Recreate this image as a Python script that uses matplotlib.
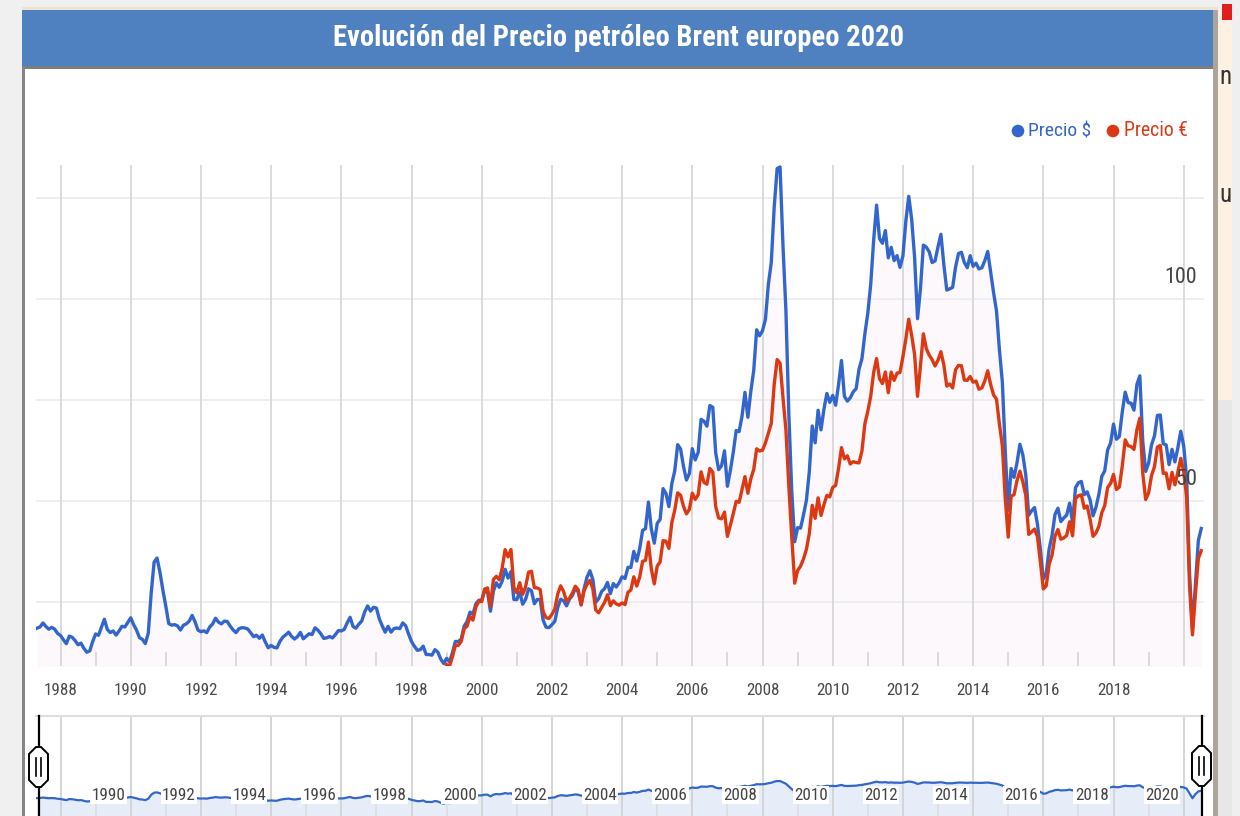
import numpy as np
import pandas as pd
import matplotlib
matplotlib.use("Agg")
import matplotlib.pyplot as plt
from matplotlib.patches import Rectangle, Polygon, Circle
from matplotlib import font_manager as fm

# ---------------- data ----------------
title = "Evolución del Precio petróleo Brent europeo 2020"
series_names = ["Precio $", "Precio €"]
usd_start = "1987-05"
eur_start = "1999-01"

precio_usd = [
    18.58, 18.86, 19.86, 18.98, 18.31, 18.76, 18.33, 17.27,                                  # 1987 (May-Dec)
    16.75, 15.70, 14.73, 16.60, 16.31, 15.49, 14.46, 14.86, 13.57, 12.61, 12.93, 15.25,      # 1988
    17.13, 16.80, 18.77, 20.78, 18.26, 17.49, 17.88, 16.85, 17.86, 19.03, 18.86, 19.97,      # 1989
    21.14, 19.45, 18.07, 16.21, 15.80, 14.76, 17.29, 27.18, 34.90, 35.92, 32.42, 27.97,      # 1990
    24.03, 19.71, 19.31, 19.45, 19.12, 18.10, 19.27, 19.63, 20.29, 21.72, 20.13, 18.09,      # 1991
    17.69, 17.90, 17.47, 18.83, 19.59, 21.03, 20.06, 19.62, 20.30, 20.23, 19.09, 18.15,      # 1992
    17.46, 18.43, 18.68, 18.62, 18.38, 17.45, 16.45, 16.82, 16.06, 16.87, 15.17, 13.72,      # 1993
    14.28, 13.82, 13.68, 15.27, 16.33, 16.91, 17.57, 16.54, 15.87, 16.47, 17.52, 15.93,      # 1994
    16.57, 17.18, 16.99, 18.65, 18.08, 17.18, 16.03, 16.16, 16.51, 16.15, 16.99, 17.96,      # 1995
    17.88, 18.27, 19.86, 21.25, 18.99, 18.56, 19.55, 20.34, 22.61, 24.08, 22.78, 23.73,      # 1996
    23.54, 20.85, 19.13, 17.56, 19.02, 17.58, 18.46, 18.60, 18.46, 19.87, 19.20, 17.10,      # 1997
    15.26, 14.07, 13.09, 13.24, 14.11, 12.04, 12.04, 11.89, 13.25, 12.65, 10.91, 9.82,       # 1998
    11.08, 10.27, 12.51, 15.29, 15.23, 15.86, 19.08, 20.22, 22.54, 22.01, 24.58, 25.47,      # 1999
    25.51, 27.78, 27.49, 22.76, 27.74, 29.80, 28.68, 30.20, 33.14, 30.96, 32.55, 25.66,      # 2000
    25.62, 27.50, 24.50, 25.66, 28.31, 27.85, 24.61, 25.68, 25.62, 20.54, 18.80, 18.71,      # 2001
    19.42, 20.28, 23.70, 25.73, 25.35, 24.08, 25.74, 26.65, 28.40, 27.54, 24.34, 28.33,      # 2002
    31.18, 32.77, 30.61, 25.00, 25.86, 27.65, 28.35, 29.89, 27.11, 29.61, 28.75, 29.81,      # 2003
    31.28, 30.86, 33.63, 33.59, 37.57, 35.18, 38.22, 42.74, 43.20, 49.78, 43.11, 39.60,      # 2004
    44.51, 45.48, 53.10, 51.88, 48.65, 54.35, 57.52, 63.98, 62.91, 58.54, 55.24, 56.86,      # 2005
    62.99, 60.21, 62.06, 70.26, 69.78, 68.56, 73.67, 73.23, 61.96, 57.81, 58.76, 62.47,      # 2006
    53.68, 57.56, 62.05, 67.49, 67.21, 71.05, 76.93, 70.76, 77.17, 82.34, 92.41, 90.93,      # 2007
    92.18, 94.99, 103.64, 109.07, 122.80, 132.32, 132.72, 113.24, 97.23, 71.58, 52.45, 39.95,  # 2008
    43.44, 43.32, 46.54, 50.18, 57.30, 68.61, 64.44, 72.51, 67.65, 72.77, 76.66, 74.46,      # 2009
    76.17, 73.75, 78.83, 84.82, 75.95, 74.76, 75.58, 77.04, 77.84, 82.67, 85.28, 91.45,      # 2010
    96.52, 103.72, 114.64, 123.26, 114.99, 113.83, 116.97, 110.22, 112.83, 109.55, 110.77, 107.87,  # 2011
    110.69, 119.33, 125.45, 119.75, 110.34, 95.16, 102.62, 113.36, 112.86, 111.71, 109.06, 109.49,  # 2012
    112.96, 116.05, 108.47, 102.25, 102.56, 102.92, 107.93, 111.28, 111.60, 109.08, 107.79, 110.76,  # 2013
    108.12, 108.90, 107.48, 107.76, 109.54, 111.80, 106.77, 101.61, 97.09, 87.43, 79.44, 62.34,     # 2014
    47.76, 58.10, 55.89, 59.52, 64.08, 61.48, 56.56, 46.52, 47.62, 48.43, 44.27, 38.01,      # 2015
    30.70, 32.18, 38.21, 41.58, 46.74, 48.25, 44.95, 45.84, 46.57, 49.52, 44.73, 53.31,      # 2016
    54.58, 54.87, 51.59, 52.31, 50.33, 46.37, 48.48, 51.70, 56.15, 57.51, 62.71, 64.37,      # 2017
    69.08, 65.32, 66.02, 72.11, 76.98, 74.41, 74.25, 72.53, 78.89, 81.03, 64.75, 57.36,      # 2018
    59.41, 63.96, 66.14, 71.23, 71.32, 64.22, 63.92, 59.04, 62.83, 59.71, 63.21, 67.31,      # 2019
    63.65, 55.66, 32.01, 18.38, 29.38, 40.27, 43.24,                                         # 2020 (Jan-Jul)
]

precio_eur = [
    9.54, 9.16, 11.50, 14.29, 14.33, 15.28, 18.43, 19.08, 21.47, 20.55, 23.77, 25.19,        # 1999
    25.16, 28.26, 28.52, 24.03, 30.62, 31.40, 30.51, 33.41, 38.00, 36.21, 38.03, 28.61,      # 2000
    27.31, 29.83, 26.92, 28.77, 32.39, 32.65, 28.58, 28.53, 28.12, 22.67, 21.17, 20.98,      # 2001
    21.99, 23.31, 27.05, 29.04, 27.64, 25.21, 25.95, 27.25, 28.95, 28.07, 24.32, 27.83,      # 2002
    29.36, 30.40, 28.32, 23.04, 22.37, 23.69, 24.91, 26.83, 24.16, 25.33, 24.57, 24.26,      # 2003
    24.81, 24.40, 27.43, 28.02, 31.28, 28.98, 31.15, 35.09, 35.35, 39.86, 33.19, 29.53,      # 2004
    33.93, 34.96, 40.23, 40.09, 38.31, 44.70, 47.77, 52.06, 51.44, 48.70, 46.85, 47.94,      # 2005
    51.97, 50.43, 51.59, 57.26, 54.64, 54.20, 58.10, 57.17, 48.67, 45.84, 45.62, 47.29,      # 2006
    41.29, 44.01, 46.87, 49.96, 49.71, 52.94, 56.07, 51.95, 55.52, 57.86, 62.95, 62.41,      # 2007
    62.62, 64.40, 66.78, 69.25, 78.92, 85.04, 84.16, 75.64, 67.66, 53.74, 41.20, 29.70,      # 2008
    32.81, 33.90, 35.66, 38.04, 41.98, 48.97, 45.74, 50.81, 46.46, 49.10, 51.42, 51.07,      # 2009
    53.38, 53.91, 58.09, 63.25, 60.47, 61.23, 59.19, 59.77, 59.56, 59.47, 62.43, 69.17,      # 2010
    72.25, 75.99, 81.89, 85.30, 80.30, 79.10, 81.97, 76.86, 81.94, 79.90, 81.69, 81.84,      # 2011
    85.74, 90.13, 95.04, 91.00, 86.27, 75.95, 83.50, 91.42, 87.76, 86.13, 85.00, 83.45,      # 2012
    84.93, 86.99, 83.70, 78.47, 79.01, 78.03, 82.52, 83.61, 83.53, 79.97, 79.90, 80.85,      # 2013
    79.44, 79.72, 77.71, 78.03, 79.78, 82.27, 78.86, 76.28, 75.26, 69.01, 63.70, 50.56,      # 2014
    41.10, 51.19, 51.61, 55.06, 57.42, 54.80, 51.42, 41.76, 42.40, 43.09, 41.22, 34.94,      # 2015
    28.27, 29.02, 34.42, 36.67, 41.33, 42.97, 40.60, 40.89, 41.54, 44.90, 41.42, 50.58,      # 2016
    51.34, 51.57, 48.26, 48.80, 45.51, 41.29, 42.12, 43.78, 47.15, 48.90, 53.42, 54.37,      # 2017
    56.62, 52.89, 53.50, 58.72, 65.18, 63.71, 63.52, 62.80, 67.66, 70.52, 56.95, 50.40,      # 2018
    52.02, 56.35, 58.53, 63.37, 63.79, 56.88, 56.97, 53.05, 57.12, 54.04, 57.20, 60.59,      # 2019
    57.34, 51.02, 28.94, 16.91, 26.95, 35.80, 37.73,                                         # 2020 (Jan-Jul)
]

x_tick_years = list(range(1988, 2019, 2))
grid_years = list(range(1988, 2021, 2))
overview_years = list(range(1990, 2021, 2))
y_grid = [25, 50, 75, 100, 125]
y_labels = [50, 100]

# ---------------- styles ----------------
W, H = 1240, 816
BLUE = "#3366cc"
RED = "#dc3912"

_avail = {f.name for f in fm.fontManager.ttflist}
NARROW = "Liberation Sans"
for cand in ["Liberation Sans Narrow", "Arial Narrow", "Roboto Condensed", "Archivo Narrow",
             "PT Sans Narrow", "IBM Plex Sans Condensed", "Open Sans Condensed"]:
    if cand in _avail:
        NARROW = cand
        break
FONT = [NARROW, "DejaVu Sans"]


def decimal_years(start, n):
    p = pd.period_range(start, periods=n, freq="M")
    return np.asarray(p.year + (p.month - 1) / 12.0, dtype=float)


x_usd = decimal_years(usd_start, len(precio_usd))
x_eur = decimal_years(eur_start, len(precio_eur))


def frac(x0, y0, x1, y1):
    return [x0 / W, 1 - y1 / H, (x1 - x0) / W, (y1 - y0) / H]


fig = plt.figure(figsize=(W / 100, H / 100), dpi=100, facecolor="#f0f0f0")
fit_list = []  # (text, target width in px)

# background decorations (widget frame)
bg = fig.add_axes([0, 0, 1, 1], zorder=0)
bg.set_xlim(0, W)
bg.set_ylim(H, 0)
bg.axis("off")
bg.add_patch(Rectangle((24, 67), 1189, 749, color="white", lw=0))
bg.add_patch(Rectangle((22, 7), 1196, 3, color="#efe4d2", lw=0))
bg.add_patch(Rectangle((22, 10), 1196, 57, color="#4f80bf", lw=0))
bg.add_patch(Rectangle((22, 66), 1196, 2.5, color="#7d7d7d", lw=0))
bg.add_patch(Rectangle((21.5, 67), 3, 749, color="#858585", lw=0))
bg.add_patch(Rectangle((1213, 10), 4.5, 806, color="#aca59d", lw=0))
bg.add_patch(Rectangle((1217.5, 10), 14.5, 390, color="#fdf1e3", lw=0))
bg.add_patch(Rectangle((1217.5, 400), 14.5, 416, color="#e7e7e7", lw=0))
bg.text(1219, 77, "n", fontsize=18, color="#333333", va="center", ha="left", family=FONT)
bg.text(1219, 195, "u", fontsize=18, color="#333333", va="center", ha="left", family=FONT)
bg.add_patch(Rectangle((1232, 0), 8, 816, color="#efefef", lw=0, zorder=5))
bg.add_patch(Rectangle((1222, 4), 10, 16, color="#e0201c", lw=0, zorder=6))

# ---------------- main chart ----------------
XL = (1987.302, 2020.578)
ax = fig.add_axes(frac(36, 165, 1204, 666), zorder=2)
ax.set_facecolor("none")
ax.set_xlim(*XL)
ax.set_ylim(9.2, 133.2)
for s in ax.spines.values():
    s.set_visible(False)
ax.set_xticks([])
ax.set_yticks([])

for v in y_grid:
    ax.axhline(v, color="#ececf4", lw=1.3, zorder=1)
for yr in grid_years:
    ax.axvline(yr, color="#dadada", lw=1.4, zorder=1)
tr = ax.get_xaxis_transform()
for yr in range(1989, 2021, 2):
    ax.plot([yr, yr], [0, 13 / 501], transform=tr, color="#d4d4d4", lw=1.2, zorder=1)

ax.fill_between(x_usd, precio_usd, 0, color="#fcf8fb", lw=0, zorder=0.5)
ax.plot(x_usd, precio_usd, color=BLUE, lw=2.4, zorder=3, solid_joinstyle="round")
ax.plot(x_eur, precio_eur, color=RED, lw=2.4, zorder=4, solid_joinstyle="round")

for yr in x_tick_years:
    t = ax.annotate(str(yr), xy=(yr, 0), xycoords=("data", "axes fraction"),
                    xytext=(0, -24.5), textcoords="offset pixels", ha="center", va="center",
                    fontsize=13.3, color="#4a4a4a", family=FONT)
    fit_list.append((t, 33.5))
for v in y_labels:
    t = ax.annotate(str(v), xy=(1, v), xycoords=("axes fraction", "data"),
                    xytext=(-7, 21.5), textcoords="offset pixels", ha="right", va="center",
                    fontsize=17.5, color="#444444", family=FONT, zorder=6)
    fit_list.append((t, 32.5 if v >= 100 else 22))

# ---------------- overview (range selector) ----------------
ax2 = fig.add_axes(frac(36, 716, 1204, 816), zorder=2)
ax2.set_facecolor("none")
ax2.set_xlim(*XL)
ax2.set_yscale("log")
ax2.set_ylim(2.37, 2.37e5)
for k, s in ax2.spines.items():
    s.set_visible(k == "top")
ax2.spines["top"].set_color("#dddddd")
ax2.spines["top"].set_linewidth(1.5)
ax2.set_xticks([])
ax2.set_yticks([])
ax2.set_yticks([], minor=True)
for yr in grid_years:
    ax2.axvline(yr, color="#d2d2d2", lw=1.3, zorder=1)
tr2 = ax2.get_xaxis_transform()
for yr in range(1989, 2021, 2):
    ax2.plot([yr, yr], [0, 0.17], transform=tr2, color="#dcdcdc", lw=1.1, zorder=1)
ax2.fill_between(x_usd, precio_usd, 1, color="#e6ecf8", lw=0, zorder=0.5)
ax2.plot(x_usd, precio_usd, color=BLUE, lw=1.6, zorder=3)
for yr in overview_years:
    t = ax2.annotate(str(yr), xy=(yr, 0.21), xycoords=("data", "axes fraction"),
                     xytext=(-5, 0), textcoords="offset pixels", ha="right", va="center",
                     fontsize=14, color="#444444", family=FONT, zorder=5,
                     bbox=dict(boxstyle="square,pad=0.08", fc="white", ec="none"))
    fit_list.append((t, 34))

# ---------------- foreground: title, legend, handles ----------------
fg = fig.add_axes([0, 0, 1, 1], zorder=10)
fg.set_xlim(0, W)
fg.set_ylim(H, 0)
fg.axis("off")
fg.patch.set_alpha(0)

t = fg.text(618.5, 45.5, title, ha="center", va="baseline", color="white",
            fontsize=21, fontweight="bold", family=FONT)
fit_list.append((t, 571))

legend_pos = [(1018, 1028, BLUE, 63), (1113, 1123.5, RED, 64)]
for (cx, tx, col, tw), name in zip(legend_pos, series_names):
    fg.add_patch(Circle((cx, 131), 6.3, color=col, lw=0))
    t = fg.text(tx, 131, name, ha="left", va="center", fontsize=15, color=col, family=FONT)
    fit_list.append((t, tw))


def handle(cx, cy):
    fg.plot([cx, cx], [716, 816], color="black", lw=1.6, zorder=11)
    w, h, c = 19, 40, 7
    pts = [(cx - w / 2 + c, cy - h / 2), (cx + w / 2 - c, cy - h / 2), (cx + w / 2, cy - h / 2 + c),
           (cx + w / 2, cy + h / 2 - c), (cx + w / 2 - c, cy + h / 2), (cx - w / 2 + c, cy + h / 2),
           (cx - w / 2, cy + h / 2 - c), (cx - w / 2, cy - h / 2 + c)]
    fg.add_patch(Polygon(pts, closed=True, fc="white", ec="black", lw=1.4, zorder=12))
    for dx in (-2.3, 2.3):
        fg.plot([cx + dx, cx + dx], [cy - 9, cy + 9], color="black", lw=1.2, zorder=13)


handle(38.5, 767)
handle(1201.5, 766)

# scale font sizes so that text widths match the reference
fig.canvas.draw()
renderer = fig.canvas.get_renderer()
for t, target in fit_list:
    bb = t.get_window_extent(renderer)
    if bb.width > 0:
        t.set_fontsize(t.get_fontsize() * target / bb.width)

fig.savefig("out.png", dpi=100, facecolor=fig.get_facecolor())
